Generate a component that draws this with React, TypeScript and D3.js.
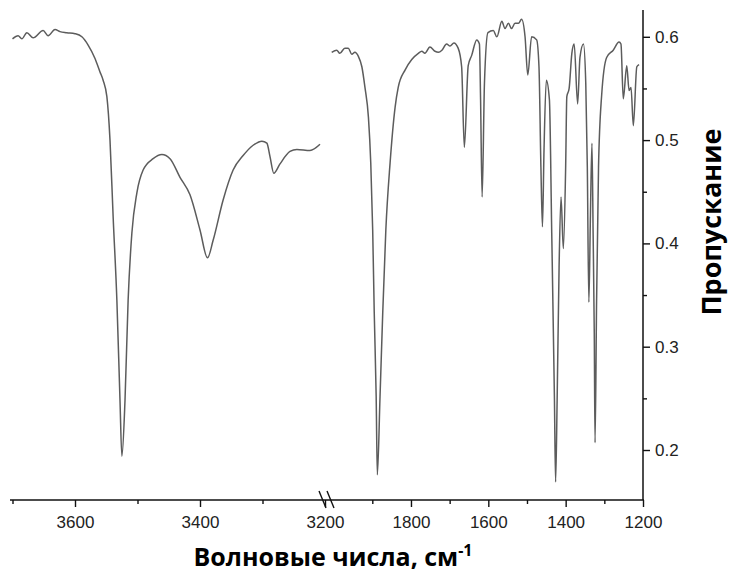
import React, { useEffect, useRef } from "react";
import * as d3 from "d3";

const W = 730;
const H = 574;

// left block, 3700-3200 cm-1
const leftWavenumber = [
  3700, 3691, 3685, 3677, 3667, 3651, 3643, 3632, 3624, 3613, 3600, 3589, 3579, 3568, 3560, 3555,
  3549, 3544, 3539, 3533, 3528, 3525, 3520, 3515, 3509, 3501, 3491, 3475, 3461, 3448, 3432, 3416,
  3400, 3388, 3379, 3363, 3347, 3331, 3315, 3301, 3293, 3288, 3282, 3272, 3256, 3245, 3224, 3208,
];
const leftTransmittance = [
  0.598, 0.601, 0.598, 0.604, 0.599, 0.606, 0.601, 0.607, 0.605, 0.604, 0.603, 0.6, 0.592, 0.579, 0.566, 0.558,
  0.542, 0.5, 0.426, 0.345, 0.248, 0.194, 0.248, 0.345, 0.41, 0.449, 0.471, 0.482, 0.486, 0.482, 0.464, 0.447,
  0.413, 0.386, 0.403, 0.442, 0.471, 0.485, 0.495, 0.499, 0.497, 0.484, 0.468, 0.477, 0.489, 0.491, 0.49, 0.496,
];

// right block, 2000-1200 cm-1
const rightWavenumber = [
  2005, 1992, 1984, 1971, 1962, 1953, 1945, 1936, 1927, 1919, 1910, 1904, 1899, 1895, 1890, 1887,
  1880, 1873, 1865, 1854, 1841, 1833, 1815, 1798, 1781, 1772, 1764, 1751, 1738, 1729, 1720, 1708,
  1699, 1689, 1678, 1669, 1662, 1652, 1643, 1630, 1623, 1620, 1616, 1610, 1601, 1587, 1578, 1565,
  1557, 1548, 1540, 1531, 1522, 1514, 1505, 1498, 1488, 1475, 1469, 1464, 1460, 1456, 1450, 1442,
  1436, 1429, 1426, 1422, 1417, 1412, 1406, 1400, 1397, 1391, 1384, 1378, 1369, 1363, 1354, 1348,
  1344, 1340, 1336, 1332, 1329, 1326, 1324, 1320, 1315, 1307, 1294, 1277, 1262, 1257, 1251, 1242,
  1236, 1231, 1225, 1216, 1210,
];
const rightTransmittance = [
  0.585, 0.587, 0.584, 0.589, 0.589, 0.583, 0.585, 0.581, 0.571, 0.551, 0.522, 0.478, 0.413, 0.333, 0.252, 0.176,
  0.252, 0.333, 0.413, 0.478, 0.532, 0.551, 0.568, 0.578, 0.584, 0.586, 0.584, 0.59, 0.586, 0.585, 0.587, 0.593,
  0.591, 0.594, 0.589, 0.571, 0.493, 0.572, 0.582, 0.597, 0.593, 0.539, 0.445, 0.555, 0.604, 0.606, 0.6, 0.615,
  0.608, 0.613, 0.608, 0.613, 0.613, 0.617, 0.6, 0.563, 0.6, 0.597, 0.571, 0.474, 0.416, 0.49, 0.558, 0.539,
  0.41, 0.249, 0.169, 0.249, 0.377, 0.445, 0.395, 0.474, 0.542, 0.55, 0.584, 0.593, 0.535, 0.58, 0.593, 0.555,
  0.474, 0.343, 0.426, 0.497, 0.41, 0.313, 0.207, 0.345, 0.474, 0.543, 0.58, 0.587, 0.595, 0.593, 0.54, 0.572,
  0.548, 0.551, 0.514, 0.571, 0.573,
];

const leftMajorTicks = [3600, 3400, 3200];
const leftMinorTicks = [3700, 3500, 3300];
const rightMajorTicks = [1800, 1600, 1400, 1200];
const rightMinorTicks = [1900, 1700, 1500, 1300];
const yMajorTicks = [0.2, 0.3, 0.4, 0.5, 0.6];
const yMinorTicks = [0.25, 0.35, 0.45, 0.55];

const xTitle = "Волновые числа, см";
const xTitleSup = "-1";
const yTitle = "Пропускание";

export default function App() {
  const ref = useRef<SVGSVGElement>(null);

  useEffect(() => {
    const svg = d3.select(ref.current);
    svg.selectAll("*").remove();

    const baseY = 500;
    const axisX = 643;
    const tickFont = "'Liberation Sans', Arial, sans-serif";
    const titleFont = "'Open Sans', 'Noto Sans', sans-serif";

    const y = d3.scaleLinear().domain([0.1516, 0.624]).range([baseY, 12]);
    const xL = d3.scaleLinear().domain([3704, 3192]).range([10, 330]);
    const xR = d3.scaleLinear().domain([2005, 1200]).range([331.7, axisX]);

    // spectrum
    const leftPts = leftWavenumber.map((w, i) => [xL(w), y(leftTransmittance[i])] as [number, number]);
    const rightPts = rightWavenumber.map((w, i) => [xR(w), y(rightTransmittance[i])] as [number, number]);
    const line = d3.line().curve(d3.curveMonotoneX);
    [leftPts, rightPts].forEach((pts) => {
      svg.append("path")
        .attr("d", line(pts))
        .attr("fill", "none")
        .attr("stroke", "#5c5c5c")
        .attr("stroke-width", 1.5)
        .attr("stroke-linejoin", "round");
    });

    // bottom axis
    const drawX = (scale: any, values: number[], size: number, labels: boolean) => {
      const ax = d3.axisBottom(scale).tickValues(values).tickSize(size).tickSizeOuter(0).tickPadding(9);
      ax.tickFormat(labels ? (d: any) => d3.format("d")(d) : () => "");
      const g = svg.append("g").attr("transform", `translate(0,${baseY})`).call(ax);
      g.select(".domain").remove();
      g.selectAll("line").attr("stroke", "#111").attr("stroke-width", 1.4);
      g.selectAll("text").attr("font-family", tickFont).attr("font-size", 17).attr("fill", "#222");
    };
    drawX(xL, leftMajorTicks, 7, true);
    drawX(xL, leftMinorTicks, 4, false);
    drawX(xR, rightMajorTicks, 7, true);
    drawX(xR, rightMinorTicks, 4, false);

    svg.append("line")
      .attr("x1", 10).attr("x2", axisX + 1)
      .attr("y1", baseY).attr("y2", baseY)
      .attr("stroke", "#111").attr("stroke-width", 1.5);

    // axis break
    [0, 8].forEach((dx) => {
      svg.append("line")
        .attr("x1", 319 + dx).attr("y1", baseY - 9)
        .attr("x2", 326 + dx).attr("y2", baseY + 8)
        .attr("stroke", "#111").attr("stroke-width", 1.4);
    });

    // right axis
    const drawY = (values: number[], size: number, labels: boolean) => {
      const ax = d3.axisRight(y).tickValues(values).tickSize(size).tickSizeOuter(0).tickPadding(5);
      ax.tickFormat(labels ? (d: any) => d3.format(".1f")(d) : () => "");
      const g = svg.append("g").attr("transform", `translate(${axisX},0)`).call(ax);
      g.select(".domain").remove();
      g.selectAll("line").attr("stroke", "#111").attr("stroke-width", 1.4);
      g.selectAll("text").attr("font-family", tickFont).attr("font-size", 17).attr("fill", "#222");
    };
    drawY(yMajorTicks, 7, true);
    drawY(yMinorTicks, 4, false);

    svg.append("line")
      .attr("x1", axisX).attr("x2", axisX)
      .attr("y1", 10).attr("y2", baseY)
      .attr("stroke", "#111").attr("stroke-width", 1.5);

    // titles
    const xt = svg.append("text")
      .attr("x", 333).attr("y", 566)
      .attr("text-anchor", "middle")
      .attr("font-family", titleFont)
      .attr("font-weight", "bold")
      .attr("font-size", 25)
      .attr("fill", "#000");
    xt.append("tspan").text(xTitle);
    xt.append("tspan").attr("dy", -10).attr("font-size", 16).text(xTitleSup);

    svg.append("text")
      .attr("transform", "translate(721,222) rotate(-90)")
      .attr("text-anchor", "middle")
      .attr("font-family", titleFont)
      .attr("font-weight", "bold")
      .attr("font-size", 27)
      .attr("fill", "#000")
      .text(yTitle);
  }, []);

  return (
    <svg
      ref={ref}
      width={W}
      height={H}
      style={{ position: "absolute", left: 0, top: 0, background: "#fff" }}
    />
  );
}
